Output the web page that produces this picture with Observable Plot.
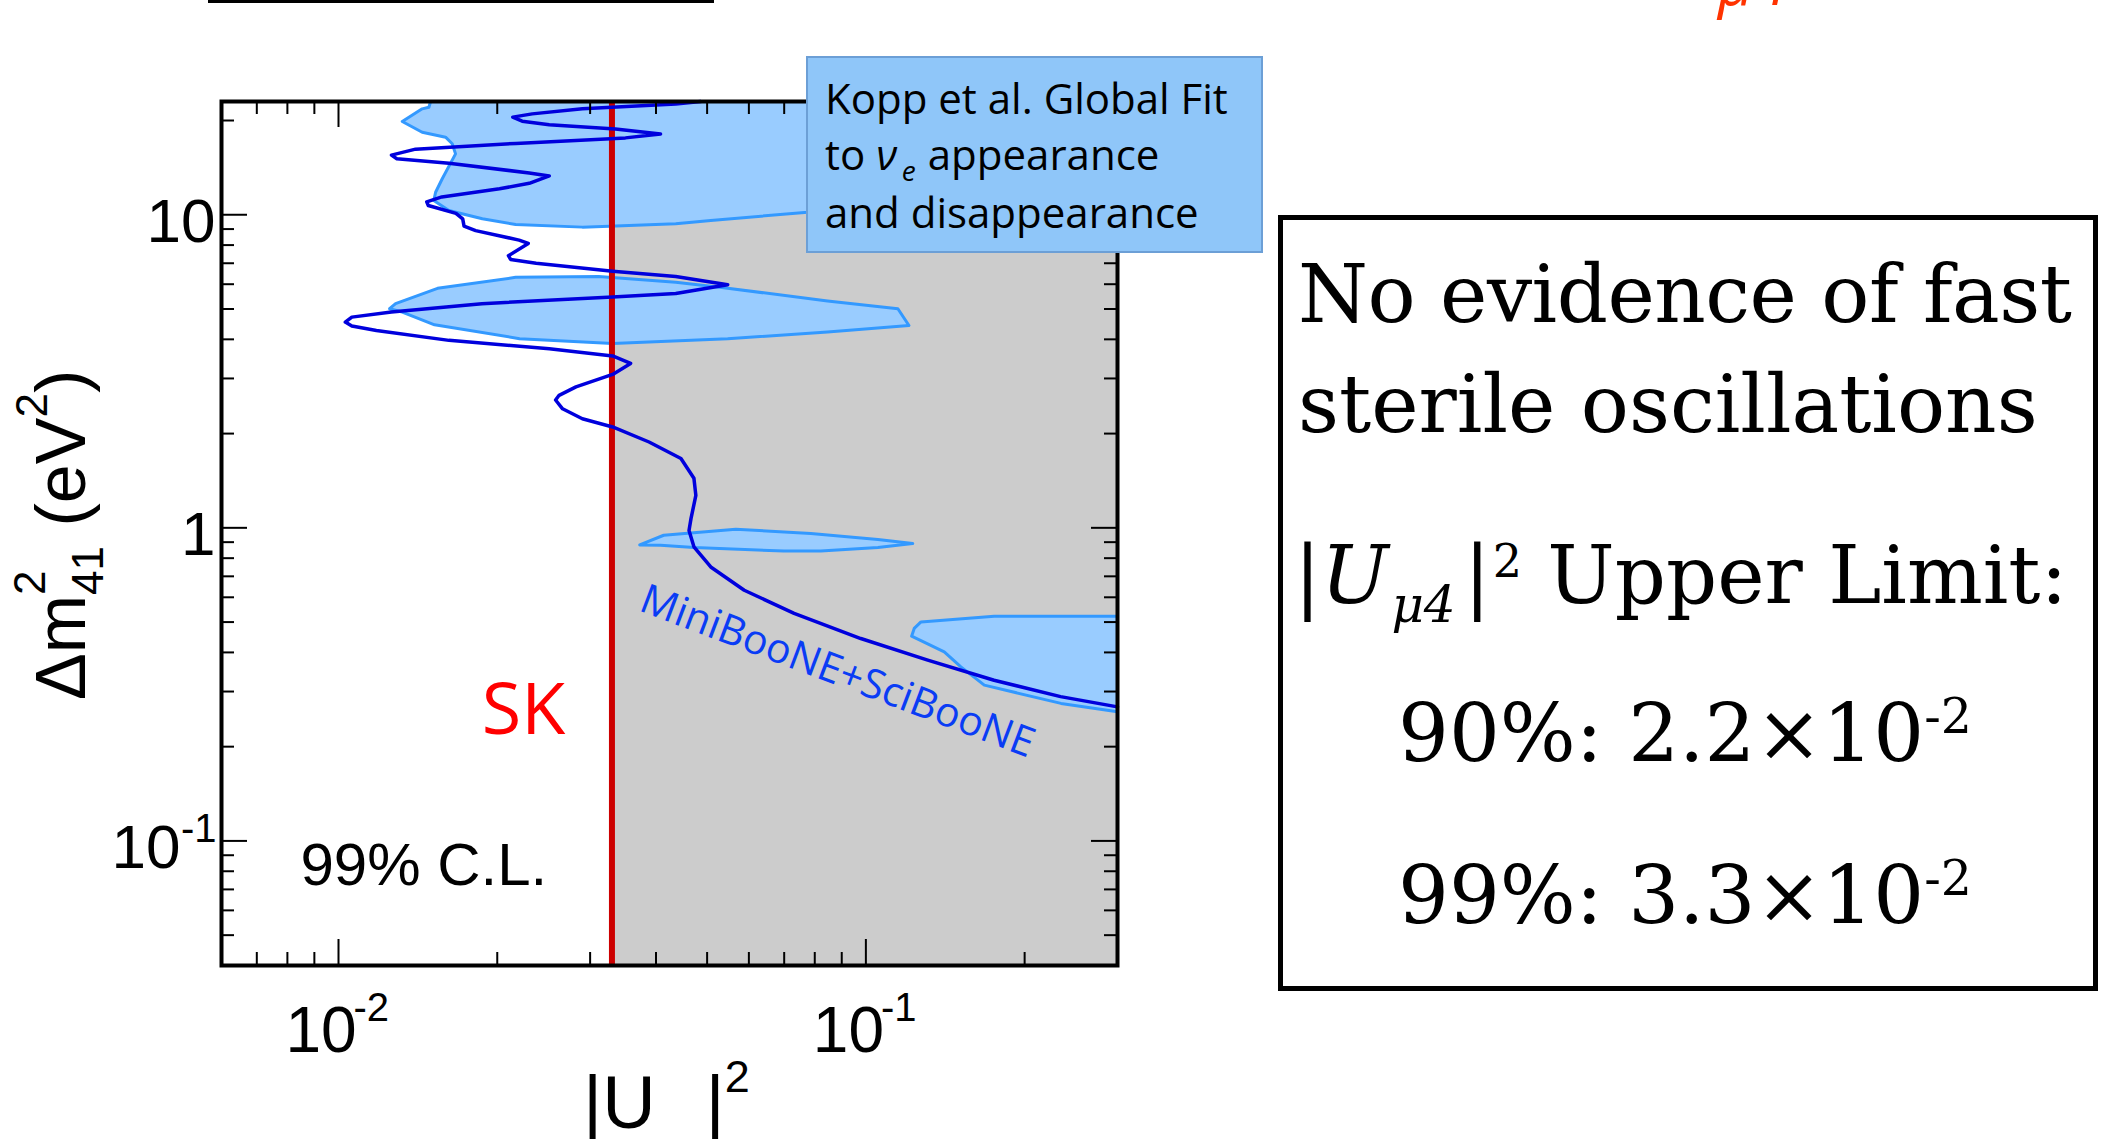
<!DOCTYPE html>
<html><head><meta charset="utf-8">
<script src="https://cdn.jsdelivr.net/npm/d3@7"></script>
<script src="https://cdn.jsdelivr.net/npm/@observablehq/plot@0.6"></script>
<style>
html,body{margin:0;padding:0;background:#fff;width:2111px;height:1139px;overflow:hidden;}
#chart{position:absolute;left:0;top:0;}
#overlay{position:absolute;left:0;top:0;}
</style></head><body>
<div id="chart"></div>
<svg id="overlay" width="2111" height="1139"></svg>
<script>
// ---- axes ----
const xDomain = [0.006, 0.3];
const yDomain = [0.04, 23];
const xMajor = [0.01, 0.1];
const xMajorBase = ["10", "10"];
const xMajorExp = ["-2", "-1"];
const xMinor = [0.007, 0.008, 0.009, 0.02, 0.03, 0.04, 0.05, 0.06, 0.07, 0.08, 0.09, 0.2];
const yMajor = [0.1, 1, 10];
const yMajorBase = ["10", "1", "10"];
const yMajorExp = ["-1", "", ""];
const yMinor = [0.05, 0.06, 0.07, 0.08, 0.09, 0.2, 0.3, 0.4, 0.5, 0.6, 0.7, 0.8, 0.9, 2, 3, 4, 5, 6, 7, 8, 9, 20];

// ---- SK 99% C.L. upper limit on |U_mu4|^2 ----
const skLimit99 = [0.033];

// ---- MiniBooNE+SciBooNE exclusion contour [|U|^2, dm2] ----
const miniboone = [[0.0486,23],[0.0436,22.6],[0.0290,21.8],[0.0233,21.0],[0.0214,20.5],[0.0223,19.9],[0.0251,19.4],[0.0335,18.8],[0.0408,18.1],[0.0350,17.6],[0.0217,16.9],[0.0140,16.2],[0.0126,15.5],[0.0129,15.1],[0.0162,14.6],[0.0230,13.6],[0.0251,13.3],[0.0230,12.6],[0.0202,12.1],[0.0157,11.4],[0.0147,11.0],[0.0148,10.7],[0.0167,10.1],[0.0172,9.7],[0.0173,9.2],[0.0182,8.9],[0.0220,8.3],[0.0229,8.1],[0.0210,7.4],[0.0212,7.2],[0.0237,7.0],[0.0331,6.6],[0.0436,6.35],[0.0547,5.98],[0.0436,5.6],[0.0331,5.46],[0.0187,5.2],[0.0126,4.89],[0.0106,4.71],[0.0103,4.54],[0.0106,4.41],[0.0118,4.27],[0.0162,3.97],[0.0251,3.73],[0.0331,3.54],[0.0358,3.35],[0.0331,3.09],[0.0282,2.82],[0.0262,2.65],[0.0258,2.56],[0.0266,2.40],[0.0290,2.23],[0.0331,2.10],[0.0388,1.88],[0.0446,1.665],[0.0472,1.44],[0.0476,1.27],[0.0466,1.07],[0.0462,0.98],[0.0472,0.87],[0.0508,0.75],[0.0588,0.632],[0.0731,0.533],[0.0978,0.443],[0.131,0.378],[0.175,0.326],[0.234,0.289],[0.30,0.268]];

// ---- Kopp et al. global fit allowed regions ----
const koppA = [[0.01495,23],[0.01484,22.05],[0.01441,21.79],[0.01321,19.86],[0.01441,18.35],[0.01596,17.69],[0.01643,16.86],[0.01667,15.65],[0.01573,13.03],[0.01528,11.8],[0.01516,11.1],[0.01619,10.32],[0.01874,9.71],[0.02167,9.31],[0.0290,9.13],[0.0436,9.36],[0.0508,9.59],[0.0775,10.19],[0.1165,11.1],[0.30,11.96],[0.30,23]];
const koppB = [[0.0125,5.01],[0.01283,5.20],[0.01541,5.82],[0.02167,6.31],[0.03114,6.35],[0.0436,6.09],[0.0533,5.86],[0.0846,5.30],[0.115,5.01],[0.1207,4.43],[0.0846,4.22],[0.0547,4.02],[0.0331,3.88],[0.02205,4.02],[0.01521,4.45],[0.01321,4.89]];
const koppC = [[0.03725,0.882],[0.04137,0.947],[0.05667,0.990],[0.07865,0.959],[0.1054,0.918],[0.1227,0.891],[0.1054,0.865],[0.0821,0.844],[0.0699,0.843],[0.0472,0.865],[0.0408,0.880]];
const koppD = [[0.30,0.522],[0.1751,0.522],[0.1272,0.5006],[0.1235,0.4771],[0.1221,0.4508],[0.1408,0.4017],[0.1514,0.3597],[0.1677,0.3145],[0.2344,0.2749],[0.30,0.2584]];

// ---- in-plot annotations (anchored in data space) ----
const skLabel = [{text: "SK", x: 0.0187, y: 0.219}];
const clLabel = [{text: "99% C.L.", x: 0.00847, y: 0.0723}];
const mbLabel = [{text: "MiniBooNE+SciBooNE", x: 0.0369, y: 0.546}];

// ---- layout ----
const W = 2111, H = 1139;
const mL = 221, mR = 994, mT = 101, mB = 174;
const fw = W - mL - mR, fh = H - mT - mB;
const SANS = "'Liberation Sans', Arial, Helvetica, sans-serif";
const CAL = "'Open Sans', 'Noto Sans', sans-serif";

const kopp = [["A", koppA], ["B", koppB], ["C", koppC], ["D", koppD]]
  .flatMap(([r, arr]) => arr.map(([x, y]) => ({x, y, region: r})));
const tick = {stroke: "black", strokeWidth: 2};

const chart = Plot.plot({
  width: W, height: H,
  marginLeft: mL, marginRight: mR, marginTop: mT, marginBottom: mB,
  x: {type: "log", domain: xDomain, axis: null},
  y: {type: "log", domain: yDomain, axis: null},
  style: {background: "transparent", overflow: "visible"},
  marks: [
    Plot.rect(skLimit99, {x1: d => d, x2: () => xDomain[1], y1: () => yDomain[0], y2: () => yDomain[1], fill: "#cccccc"}),
    Plot.line(kopp, {x: "x", y: "y", z: "region", curve: "linear-closed", fill: "#99ccff", stroke: "#3399ff", strokeWidth: 3}),
    Plot.ruleX(skLimit99, {stroke: "#cc0000", strokeWidth: 6}),
    Plot.line(miniboone, {x: d => d[0], y: d => d[1], stroke: "#0000dd", strokeWidth: 3.5, strokeLinejoin: "round"}),
    Plot.ruleX(xMinor, {...tick, insetTop: fh - 13}),
    Plot.ruleX(xMinor, {...tick, insetBottom: fh - 13}),
    Plot.ruleX(xMajor, {...tick, insetTop: fh - 26}),
    Plot.ruleX(xMajor, {...tick, insetBottom: fh - 26}),
    Plot.ruleY(yMinor, {...tick, insetRight: fw - 13}),
    Plot.ruleY(yMinor, {...tick, insetLeft: fw - 13}),
    Plot.ruleY(yMajor, {...tick, insetRight: fw - 26}),
    Plot.ruleY(yMajor, {...tick, insetLeft: fw - 26}),
    Plot.frame({stroke: "black", strokeWidth: 4}),
    // x tick labels
    Plot.text(xMajor, {x: d => d, frameAnchor: "bottom", text: (d, i) => xMajorBase[i], textAnchor: "middle", lineAnchor: "bottom", dx: -17.5, dy: 86, fontSize: 64, fontFamily: SANS, fill: "black"}),
    Plot.text(xMajor, {x: d => d, frameAnchor: "bottom", text: (d, i) => xMajorExp[i], textAnchor: "start", lineAnchor: "bottom", dx: 15, dy: 55, fontSize: 40, fontFamily: SANS, fill: "black"}),
    // y tick labels
    Plot.text(yMajor, {filter: (d, i) => !yMajorExp[i], y: d => d, frameAnchor: "left", text: (d, i) => yMajorBase[i], textAnchor: "end", lineAnchor: "bottom", dx: -6, dy: 27.5, fontSize: 62, fontFamily: SANS, fill: "black"}),
    Plot.text(yMajor, {filter: (d, i) => !!yMajorExp[i], y: d => d, frameAnchor: "left", text: (d, i) => yMajorBase[i], textAnchor: "end", lineAnchor: "bottom", dx: -41, dy: 27.5, fontSize: 62, fontFamily: SANS, fill: "black"}),
    Plot.text(yMajor, {filter: (d, i) => !!yMajorExp[i], y: d => d, frameAnchor: "left", text: (d, i) => yMajorExp[i], textAnchor: "end", lineAnchor: "bottom", dx: -5, dy: 1, fontSize: 40, fontFamily: SANS, fill: "black"}),
    // annotations
    Plot.text(skLabel, {x: "x", y: "y", text: "text", textAnchor: "start", lineAnchor: "bottom", fontSize: 72, fontFamily: CAL, fill: "#ff0000"}),
    Plot.text(clLabel, {x: "x", y: "y", text: "text", textAnchor: "start", lineAnchor: "bottom", fontSize: 60, fontFamily: SANS, fill: "black"}),
    Plot.text(mbLabel, {x: "x", y: "y", text: "text", textAnchor: "start", lineAnchor: "bottom", rotate: 20.7, fontSize: 41, fontFamily: CAL, fill: "#0a3cf5"})
  ]
});
document.getElementById("chart").appendChild(chart);

// ---- overlay: titles, boxes ----
const ov = d3.select("#overlay");
// fragment of slide title above
ov.append("rect").attr("x", 208).attr("y", 0).attr("width", 506).attr("height", 3).attr("fill", "black");
ov.append("text").attr("x", 1718).attr("y", 5).attr("font-family", CAL).attr("font-style", "italic")
  .attr("font-size", 62).attr("fill", "#ff3300").text("μ4");

// y axis title
const yt = ov.append("text").attr("transform", "translate(85,700) rotate(-90)")
  .attr("font-family", SANS).attr("font-size", 70).attr("fill", "black");
yt.append("tspan").text("Δm");
yt.append("tspan").attr("font-size", 44).attr("dy", -40).text("2");
yt.append("tspan").attr("font-size", 44).attr("dx", -24.5).attr("dy", 58).text("41");
yt.append("tspan").attr("dy", -18).text(" (eV");
yt.append("tspan").attr("font-size", 44).attr("dy", -38).text("2");
yt.append("tspan").attr("dy", 38).text(")");

// x axis title (cut at bottom)
const xt = ov.append("text").attr("x", 583).attr("y", 1128).attr("font-family", SANS).attr("font-size", 74).attr("fill", "black");
xt.append("tspan").text("|U");
xt.append("tspan").attr("font-size", 44).attr("dy", 43).text("μ4");
xt.append("tspan").attr("dy", -43).text("|");
xt.append("tspan").attr("font-size", 45).attr("dy", -36).text("2");

// Kopp box
ov.append("rect").attr("x", 807).attr("y", 57).attr("width", 455).attr("height", 195)
  .attr("fill", "#8fc6f9").attr("stroke", "#6c9fd6").attr("stroke-width", 2);
const kt = ov.append("g").attr("font-family", CAL).attr("font-size", 42).attr("fill", "black");
kt.append("text").attr("x", 825).attr("y", 114).text("Kopp et al. Global Fit");
const k2 = kt.append("text").attr("x", 825).attr("y", 170);
k2.append("tspan").text("to ");
k2.append("tspan").attr("font-style", "italic").text("ν");
k2.append("tspan").attr("font-style", "italic").attr("font-size", 28).attr("dx", 5).attr("dy", 11).text("e");
k2.append("tspan").attr("dx", 1).attr("dy", -11).text(" appearance");
kt.append("text").attr("x", 825).attr("y", 228).text("and disappearance");

// Right text box
const SERIF = "'DejaVu Serif', 'Liberation Serif', serif";
ov.append("rect").attr("x", 1280.5).attr("y", 217.5).attr("width", 815).attr("height", 771)
  .attr("fill", "white").attr("stroke", "black").attr("stroke-width", 5);
const rb = ov.append("g").attr("font-family", SERIF).attr("font-size", 80).attr("fill", "black");
rb.append("text").attr("x", 1298).attr("y", 322).attr("textLength", 774).attr("lengthAdjust", "spacing").text("No evidence of fast");
rb.append("text").attr("x", 1298).attr("y", 432).text("sterile oscillations");
const l3 = rb.append("text").attr("x", 1294).attr("y", 603);
l3.append("tspan").text("|");
l3.append("tspan").attr("font-style", "italic").text("U");
l3.append("tspan").attr("dx", 3).attr("dy", 19).attr("font-size", 50).attr("font-style", "italic").text("μ4");
l3.append("tspan").attr("dx", 8).attr("dy", -19).text("|");
l3.append("tspan").attr("dx", 2).attr("dy", -26).attr("font-size", 46).text("2");
l3.append("tspan").attr("dy", 26).text(" Upper Limit:");
const l4 = rb.append("text").attr("x", 1685).attr("y", 761).attr("text-anchor", "middle");
l4.append("tspan").text("90%: 2.2×10");
l4.append("tspan").attr("font-size", 49).attr("dy", -28).text("-2");
const l5 = rb.append("text").attr("x", 1685).attr("y", 923).attr("text-anchor", "middle");
l5.append("tspan").text("99%: 3.3×10");
l5.append("tspan").attr("font-size", 49).attr("dy", -28).text("-2");
</script>
</body></html>
